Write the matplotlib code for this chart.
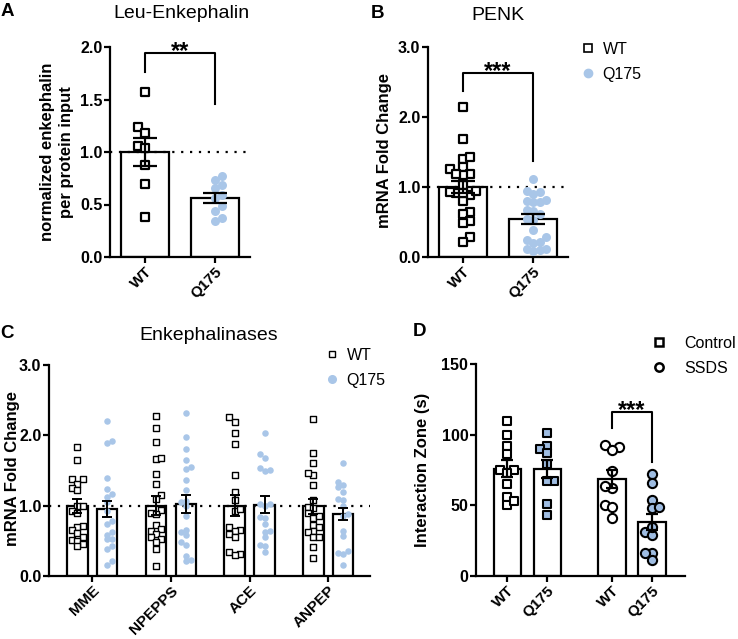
import numpy as np
import matplotlib
matplotlib.use('Agg')
import matplotlib.pyplot as plt
from matplotlib.lines import Line2D

plt.rcParams['font.family'] = ['Liberation Sans', 'DejaVu Sans']
plt.rcParams['font.weight'] = 'bold'

BLUE = '#a9c6e8'
BLUE_D = '#9fbde2'

# ---- data ----
groups_ab = ['WT', 'Q175']

# A: Leu-Enkephalin
a_wt = [1.57, 1.24, 1.18, 1.06, 1.04, 0.88, 0.70, 0.38]
a_q175 = [0.77, 0.73, 0.69, 0.66, 0.59, 0.56, 0.49, 0.44, 0.37, 0.34]
a_mean = [1.00, 0.56]
a_sem = [0.13, 0.045]

# B: PENK
b_wt = [2.14, 1.69, 1.40, 1.43, 1.26, 1.29, 1.19, 1.17, 1.18, 1.03, 0.92,
        0.88, 0.95, 0.80, 0.91, 0.93, 0.64, 0.61, 0.52, 0.49, 0.28, 0.21]
b_q175 = [1.12, 0.93, 0.95, 0.90, 0.82, 0.78, 0.78, 0.80, 0.67, 0.62, 0.66,
          0.53, 0.55, 0.28, 0.24, 0.21, 0.20, 0.12, 0.10, 0.12, 0.09, 0.38]
b_mean = [1.00, 0.54]
b_sem = [0.09, 0.07]

# C: Enkephalinases
genes = ['MME', 'NPEPPS', 'ACE', 'ANPEP']
c_wt = [
    [1.83, 1.65, 1.38, 1.38, 1.31, 1.25, 1.22, 1.00, 0.99, 0.93, 0.90, 0.71,
     0.69, 0.66, 0.61, 0.56, 0.51, 0.50, 0.45, 0.42],
    [2.27, 2.10, 1.91, 1.66, 1.68, 1.45, 1.31, 1.15, 1.10, 0.94, 0.90, 0.88,
     0.72, 0.67, 0.64, 0.60, 0.55, 0.52, 0.48, 0.38, 0.14],
    [2.26, 2.19, 2.04, 1.87, 1.43, 1.19, 1.08, 0.93, 0.95, 0.70, 0.66, 0.64,
     0.60, 0.56, 0.34, 0.31, 0.30],
    [2.23, 1.75, 1.61, 1.43, 1.46, 1.30, 1.08, 0.98, 0.97, 0.90, 0.83, 0.85,
     0.73, 0.70, 0.64, 0.63, 0.56, 0.56, 0.41, 0.26],
]
c_q175 = [
    [2.20, 1.89, 1.92, 1.40, 1.24, 1.12, 1.16, 1.05, 0.92, 0.78, 0.74, 0.59,
     0.62, 0.52, 0.52, 0.43, 0.39, 0.16, 0.22],
    [2.32, 1.97, 1.81, 1.65, 1.55, 1.52, 1.37, 1.22, 1.05, 1.07, 1.00, 0.86,
     0.63, 0.66, 0.58, 0.48, 0.44, 0.29, 0.21, 0.23],
    [2.04, 1.74, 1.68, 1.54, 1.50, 1.51, 1.03, 1.02, 1.00, 0.84, 0.83, 0.74,
     0.64, 0.63, 0.56, 0.44, 0.43, 0.34],
    [1.60, 1.30, 1.26, 1.33, 1.20, 1.09, 1.08, 1.00, 0.88, 0.86, 0.64, 0.57,
     0.36, 0.33, 0.31, 0.16],
]
c_wt_mean = [0.99, 1.00, 1.00, 0.99]
c_wt_sem = [0.10, 0.135, 0.15, 0.105]
c_q_mean = [0.955, 1.02, 1.015, 0.88]
c_q_sem = [0.115, 0.13, 0.12, 0.08]

# D: Interaction zone
d_labels = ['WT', 'Q175', 'WT', 'Q175']
d_ctrl_wt = [110, 100, 92, 86, 75, 75, 73, 65, 56, 50, 53]
d_ctrl_q175 = [101, 92, 90, 87, 79, 67, 67, 51, 43]
d_ssds_wt = [93, 91, 89, 74, 62, 64, 50, 49, 41]
d_ssds_q175 = [72, 66, 54, 48, 49, 31, 29, 35, 16, 16, 11]
d_mean = [76, 75.5, 68.5, 38.3]
d_sem = [6, 6.5, 6.3, 5.5]

TICK_FS = 11.5
XTICK_FS = 11
YLAB_FS = 12
TITLE_FS = 14
LEG_FS = 11.5
STAR_FS = 17

fig = plt.figure(figsize=(7.38, 6.39), dpi=100)


def px_axes(l, r, top, bottom):
    return fig.add_axes([l / 738, 1 - bottom / 639, (r - l) / 738, (bottom - top) / 639])


def style(ax):
    for s in ['top', 'right']:
        ax.spines[s].set_visible(False)
    for s in ['left', 'bottom']:
        ax.spines[s].set_linewidth(1.6)
    ax.tick_params(width=1.6, length=4, labelsize=TICK_FS, pad=1.5)
    for t in ax.get_xticklabels():
        t.set_fontsize(XTICK_FS)


def swarm_x(ax, xc, ys, diam):
    # simple beeswarm in pixel space, step = diam
    ys = np.asarray(ys, float)
    disp = ax.transData.transform(np.column_stack([np.full(len(ys), xc), ys]))
    placed = []
    xs = np.empty(len(ys))
    for n, i in enumerate(np.argsort(ys)):
        px, py = disp[i]
        k = 0
        done = False
        while not done:
            cands = [0.0] if k == 0 else ([k * diam, -k * diam] if n % 2 else [-k * diam, k * diam])
            for c in cands:
                ok = all((px + c - qx) ** 2 + (py - qy) ** 2 >= (0.98 * diam) ** 2 for qx, qy in placed)
                if ok:
                    placed.append((px + c, py))
                    xs[i] = ax.transData.inverted().transform((px + c, py))[0]
                    done = True
                    break
            k += 1
    return xs


def bracket(ax, x0, x1, y0, y1, ytop, stars):
    ax.plot([x0, x0, x1, x1], [y0, ytop, ytop, y1], color='black', lw=1.5,
            clip_on=False, zorder=5)
    ax.annotate(stars, ((x0 + x1) / 2, ytop), xytext=(0, -3.5), textcoords='offset points',
                ha='center', va='baseline', fontsize=STAR_FS, fontweight='bold',
                annotation_clip=False)


def legend_at(ax, handles, labels, x_px, top_px, textpad):
    ax.legend(handles, labels, loc='upper left', bbox_to_anchor=(x_px / 738, 1 - top_px / 639),
              bbox_transform=fig.transFigure, frameon=False, borderpad=0, borderaxespad=0,
              handlelength=0.9, handletextpad=textpad, labelspacing=0.62,
              prop={'size': LEG_FS, 'weight': 'normal'})


def bars_ab(ax, wt, q, mean, sem, ylim, ytick, yfmt):
    x = np.arange(2)
    ax.set_xlim(-0.5, 1.5)
    ax.set_ylim(*ylim)
    ax.bar(x, mean, width=0.68, color='white', edgecolor='black', linewidth=1.6, zorder=1)
    ax.axhline(1.0, color='black', ls=(0, (1, 3)), lw=1.6, zorder=2)
    xw = swarm_x(ax, 0, wt, 6.7)
    xq = swarm_x(ax, 1, q, 6.5)
    ax.scatter(xw, wt, marker='s', s=40, facecolor='white', edgecolor='black',
               linewidth=1.6, zorder=3)
    ax.scatter(xq, q, marker='o', s=42, color=BLUE, linewidth=0, zorder=3)
    ax.errorbar(x, mean, yerr=sem, fmt='none', ecolor='black', elinewidth=1.6,
                capsize=8.5, capthick=1.6, zorder=4)
    ax.set_yticks(ytick)
    ax.set_yticklabels([yfmt.format(v) for v in ytick])
    ax.set_xticks(x)
    ax.set_xticklabels(groups_ab, rotation=45, ha='right', rotation_mode='anchor')
    style(ax)


# ---- A ----
axA = px_axes(110, 250, 47, 257)
bars_ab(axA, a_wt, a_q175, a_mean, a_sem, (0, 2.0), [0, 0.5, 1.0, 1.5, 2.0], '{:.1f}')
bracket(axA, 0, 1, 1.76, 1.46, 1.94, '**')
fig.text(57 / 738, 1 - 152 / 639, 'normalized enkephalin\nper protein input', rotation=90,
         ha='center', va='center', fontsize=YLAB_FS, fontweight='bold', linespacing=1.25)
fig.text(181 / 738, 1 - 13 / 639, 'Leu-Enkephalin', ha='center', va='center',
         fontsize=TITLE_FS, fontweight='normal')
fig.text(1 / 738, 1 - 11 / 639, 'A', ha='left', va='center', fontsize=13.5, fontweight='bold')

# ---- B ----
axB = px_axes(428, 568, 47, 257)
bars_ab(axB, b_wt, b_q175, b_mean, b_sem, (0, 3.0), [0, 1.0, 2.0, 3.0], '{:.1f}')
bracket(axB, 0, 1, 2.37, 1.37, 2.63, '***')
fig.text(385 / 738, 1 - 151 / 639, 'mRNA Fold Change', rotation=90,
         ha='center', va='center', fontsize=YLAB_FS, fontweight='bold')
fig.text(498 / 738, 1 - 16 / 639, 'PENK', ha='center', va='center',
         fontsize=TITLE_FS, fontweight='normal')
fig.text(371 / 738, 1 - 13 / 639, 'B', ha='left', va='center', fontsize=13.5, fontweight='bold')
hB = [Line2D([], [], ls='none', marker='s', mfc='white', mec='black', mew=1.2, ms=5.5),
      Line2D([], [], ls='none', marker='o', mfc=BLUE, mec=BLUE, ms=6)]
legend_at(axB, hB, groups_ab, 581, 42, 0.45)

# ---- C ----
axC = px_axes(49, 370, 365, 576)
xc = np.arange(len(genes))
off = 0.19
axC.set_xlim(-0.55, 3.53)
axC.set_ylim(0, 3.0)
axC.bar(xc - off, c_wt_mean, width=0.26, color='white', edgecolor='black', linewidth=1.6, zorder=1)
axC.bar(xc + off, c_q_mean, width=0.26, color='white', edgecolor='black', linewidth=1.6, zorder=1)
axC.axhline(1.0, color='black', ls=(0, (1, 3)), lw=1.6, zorder=2)
for i in range(len(genes)):
    xw = swarm_x(axC, xc[i] - off, c_wt[i], 5.2)
    xq = swarm_x(axC, xc[i] + off, c_q175[i], 5.0)
    axC.scatter(xw, c_wt[i], marker='s', s=24, facecolor='white', edgecolor='black',
                linewidth=1.0, zorder=3)
    axC.scatter(xq, c_q175[i], marker='o', s=22, color=BLUE, linewidth=0, zorder=3)
axC.errorbar(xc - off, c_wt_mean, yerr=c_wt_sem, fmt='none', ecolor='black', elinewidth=1.4,
             capsize=3.5, capthick=1.4, zorder=4)
axC.errorbar(xc + off, c_q_mean, yerr=c_q_sem, fmt='none', ecolor='black', elinewidth=1.4,
             capsize=3.5, capthick=1.4, zorder=4)
axC.set_yticks([0, 1.0, 2.0, 3.0])
axC.set_yticklabels(['0.0', '1.0', '2.0', '3.0'])
axC.set_xticks(xc)
axC.set_xticklabels(genes, rotation=45, ha='right', rotation_mode='anchor')
style(axC)
fig.text(13 / 738, 1 - 468 / 639, 'mRNA Fold Change', rotation=90,
         ha='center', va='center', fontsize=YLAB_FS, fontweight='bold')
fig.text(209 / 738, 1 - 336 / 639, 'Enkephalinases', ha='center', va='center',
         fontsize=TITLE_FS, fontweight='normal')
fig.text(0, 1 - 333 / 639, 'C', ha='left', va='center', fontsize=13.5, fontweight='bold')
hC = [Line2D([], [], ls='none', marker='s', mfc='white', mec='black', mew=1.0, ms=5),
      Line2D([], [], ls='none', marker='o', mfc=BLUE, mec=BLUE, ms=5.5)]
legend_at(axC, hC, groups_ab, 325, 348, 0.45)

# ---- D ----
axD = px_axes(476, 685, 364, 576)
xd = np.array([0, 1, 2.625, 3.625])
axD.set_xlim(-0.78, 4.45)
axD.set_ylim(0, 150)
axD.bar(xd, d_mean, width=0.68, color='white', edgecolor='black', linewidth=1.6, zorder=1)
d_sets = [d_ctrl_wt, d_ctrl_q175, d_ssds_wt, d_ssds_q175]
d_marker = ['s', 's', 'o', 'o']
d_face = ['white', BLUE_D, 'white', BLUE_D]
for i in range(4):
    xs = swarm_x(axD, xd[i], d_sets[i], 6.8)
    axD.scatter(xs, d_sets[i], marker=d_marker[i], s=36 if d_marker[i] == 's' else 44,
                facecolor=d_face[i], edgecolor='black', linewidth=1.5, zorder=3)
axD.errorbar(xd, d_mean, yerr=d_sem, fmt='none', ecolor='black', elinewidth=1.6,
             capsize=4.5, capthick=1.6, zorder=4)
axD.set_yticks([0, 50, 100, 150])
axD.set_xticks(xd)
axD.set_xticklabels(d_labels, rotation=45, ha='right', rotation_mode='anchor')
style(axD)
bracket(axD, xd[2], xd[3], 104.5, 81, 116, '***')
fig.text(423 / 738, 1 - 470 / 639, 'Interaction Zone (s)', rotation=90,
         ha='center', va='center', fontsize=YLAB_FS, fontweight='bold')
fig.text(413 / 738, 1 - 331 / 639, 'D', ha='left', va='center', fontsize=13.5, fontweight='bold')
hD = [Line2D([], [], ls='none', marker='s', mfc='white', mec='black', mew=1.8, ms=6),
      Line2D([], [], ls='none', marker='o', mfc='white', mec='black', mew=1.8, ms=6)]
legend_at(axD, hD, ['Control', 'SSDS'], 652, 336, 1.15)

fig.savefig('out.png', dpi=100)
